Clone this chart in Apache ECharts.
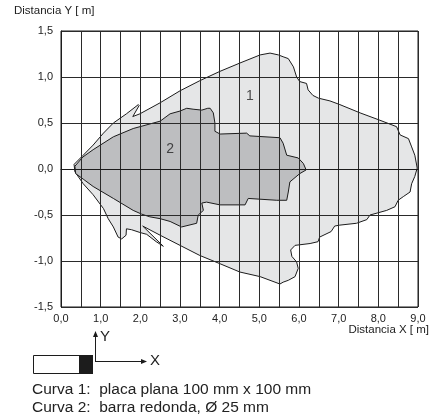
<!DOCTYPE html>
<html>
<head>
<meta charset="utf-8">
<script src="https://cdn.jsdelivr.net/npm/echarts@6/dist/echarts.min.js"></script>
<style>
  html, body { margin: 0; padding: 0; background: #fff; }
</style>
</head>
<body>
<div id="main" style="width: 438px; height: 419px"></div>
<script>
// Curva 1 - placa plana (contorno, tomado del grafico)
var curve1X = [0.33, 0.56, 0.81, 1.07, 1.32, 1.65, 1.95, 1.97, 1.81, 1.99, 2.50, 3.00, 3.50, 4.00, 4.50, 5.02, 5.27, 5.48, 5.60, 5.73,
  5.86, 5.94, 6.02, 6.19, 6.23, 6.35, 6.49, 6.78, 7.03, 7.54, 8.04, 8.46, 8.55, 8.76, 8.84, 8.92, 8.98, 8.92, 8.84, 8.80,
  8.63, 8.50, 8.42, 8.21, 7.79, 7.71, 7.45, 7.03, 6.90, 6.81, 6.52, 6.48, 6.28, 5.90, 5.79, 5.82, 5.94, 5.98, 5.90, 5.73,
  5.60, 5.52, 5.02, 4.51, 4.01, 3.50, 3.00, 2.50, 2.06, 2.58, 2.40, 2.16, 1.99, 1.78, 1.65, 1.64, 1.53, 1.44, 1.32, 1.19,
  1.07, 0.81, 0.56, 0.35];
var curve1Y = [0.05, 0.15, 0.26, 0.39, 0.50, 0.60, 0.70, 0.69, 0.57, 0.60, 0.72, 0.85, 0.96, 1.06, 1.15, 1.24, 1.26, 1.24, 1.22, 1.20,
  1.11, 1.00, 0.95, 0.93, 0.86, 0.80, 0.77, 0.74, 0.70, 0.61, 0.53, 0.46, 0.37, 0.33, 0.24, 0.15, 0.01, -0.08, -0.16, -0.25,
  -0.30, -0.34, -0.41, -0.45, -0.50, -0.55, -0.59, -0.61, -0.62, -0.68, -0.74, -0.79, -0.81, -0.83, -0.88, -0.95, -1.01, -1.08, -1.17, -1.21,
  -1.23, -1.25, -1.17, -1.12, -1.03, -0.94, -0.83, -0.72, -0.62, -0.84, -0.79, -0.71, -0.69, -0.66, -0.65, -0.72, -0.76, -0.74, -0.63, -0.54,
  -0.43, -0.28, -0.16, -0.03];

// Curva 2 - barra redonda
var curve2X = [0.35, 0.55, 0.81, 1.32, 1.82, 2.50, 2.75, 3.00, 3.17, 3.33, 3.55, 3.70, 3.76, 3.84, 3.88, 3.88, 4.01, 4.68, 4.76, 5.52,
  5.60, 5.69, 5.98, 6.11, 6.18, 6.02, 5.77, 5.73, 5.69, 5.44, 4.72, 4.64, 4.01, 3.67, 3.55, 3.59, 3.46, 3.42, 3.04, 2.75,
  2.50, 2.24, 2.03, 1.82, 1.32, 0.81, 0.56, 0.37];
var curve2Y = [0.03, 0.13, 0.21, 0.35, 0.44, 0.52, 0.60, 0.63, 0.66, 0.65, 0.64, 0.66, 0.66, 0.61, 0.50, 0.41, 0.38, 0.39, 0.36, 0.34,
  0.28, 0.15, 0.12, 0.06, -0.01, -0.05, -0.14, -0.25, -0.34, -0.34, -0.32, -0.39, -0.39, -0.36, -0.37, -0.45, -0.50, -0.59, -0.63, -0.57,
  -0.54, -0.52, -0.49, -0.45, -0.32, -0.19, -0.11, -0.05];

var curveNames = ['1', '2'];
var labelX = [4.76, 2.75];
var labelY = [0.79, 0.22];

var chartDom = document.getElementById('main');
var myChart = echarts.init(chartDom);

function fmt(v) {
  return v.toFixed(1).replace('.', ',');
}

function polygonSerie(xs, ys, fill) {
  return {
    type: 'custom',
    silent: true,
    z: 2,
    data: [[xs[0], ys[0]]],
    renderItem: function (params, api) {
      var pts = xs.map(function (x, i) { return api.coord([x, ys[i]]); });
      return {
        type: 'polygon',
        shape: { points: pts },
        style: { fill: fill, stroke: '#1c1c1c', lineWidth: 1 }
      };
    }
  };
}

var font = '"Liberation Sans", Arial, sans-serif';

var option = {
  animation: false,
  backgroundColor: '#fff',
  grid: {
    left: 61, right: 20, top: 31, bottom: 112,
    show: true, borderColor: '#1c1c1c', borderWidth: 1
  },
  xAxis: {
    type: 'value',
    min: 0, max: 9, interval: 0.5,
    z: 5,
    axisLine: { show: true, lineStyle: { color: '#1c1c1c', width: 1 } },
    axisTick: { show: false },
    axisLabel: {
      color: '#222', fontSize: 11, fontFamily: font, margin: 6,
      formatter: function (v) {
        return Math.abs(v - Math.round(v)) < 1e-6 ? fmt(v) : '';
      }
    },
    splitLine: { show: true, lineStyle: { color: '#2a2a2a', width: 1 } }
  },
  yAxis: {
    type: 'value',
    min: -1.5, max: 1.5, interval: 0.5,
    z: 5,
    axisLine: { show: true, lineStyle: { color: '#1c1c1c', width: 1 } },
    axisTick: { show: false },
    axisLabel: { color: '#222', fontSize: 11, fontFamily: font, margin: 8, formatter: fmt },
    splitLine: { show: true, lineStyle: { color: '#2a2a2a', width: 1 } }
  },
  series: [
    polygonSerie(curve1X, curve1Y, '#e5e6e7'),
    polygonSerie(curve2X, curve2Y, '#bdbec0'),
    {
      type: 'scatter',
      symbolSize: 0,
      z: 6,
      silent: true,
      data: labelX.map(function (x, i) { return { name: curveNames[i], value: [x, labelY[i]] }; }),
      label: {
        show: true, position: 'inside', formatter: '{b}',
        color: '#222', fontSize: 14, fontFamily: font
      }
    }
  ],
  graphic: [
    { type: 'text', left: 14, top: 5, style: { text: 'Distancia Y [ m]', fill: '#222', font: '11.5px ' + font } },
    { type: 'text', right: 9, top: 324, style: { text: 'Distancia X [ m]', fill: '#222', font: '11.5px ' + font } },
    // sensor
    { type: 'rect', shape: { x: 33.5, y: 355.5, width: 46, height: 18 }, style: { fill: '#fff', stroke: '#1c1c1c', lineWidth: 1 } },
    { type: 'rect', shape: { x: 79, y: 355, width: 14, height: 19 }, style: { fill: '#1c1c1c' } },
    { type: 'polyline', shape: { points: [[95.5, 362], [95.5, 336]] }, style: { stroke: '#1c1c1c', lineWidth: 1 } },
    { type: 'polygon', shape: { points: [[95.5, 331], [93, 337], [98, 337]] }, style: { fill: '#1c1c1c' } },
    { type: 'polyline', shape: { points: [[95.5, 361.5], [142, 361.5]] }, style: { stroke: '#1c1c1c', lineWidth: 1 } },
    { type: 'polygon', shape: { points: [[147, 361.5], [141, 359], [141, 364]] }, style: { fill: '#1c1c1c' } },
    { type: 'text', left: 100, top: 329, style: { text: 'Y', fill: '#222', font: '15px ' + font } },
    { type: 'text', left: 150, top: 353, style: { text: 'X', fill: '#222', font: '15px ' + font } },
    { type: 'text', left: 32, top: 382, style: { text: 'Curva 1:  placa plana 100 mm x 100 mm', fill: '#222', font: '15.5px ' + font } },
    { type: 'text', left: 32, top: 400, style: { text: 'Curva 2:  barra redonda, \u00d8 25 mm', fill: '#222', font: '15.5px ' + font } }
  ]
};

myChart.setOption(option);
window.addEventListener('resize', function () {
  myChart.resize();
});
</script>
</body>
</html>
